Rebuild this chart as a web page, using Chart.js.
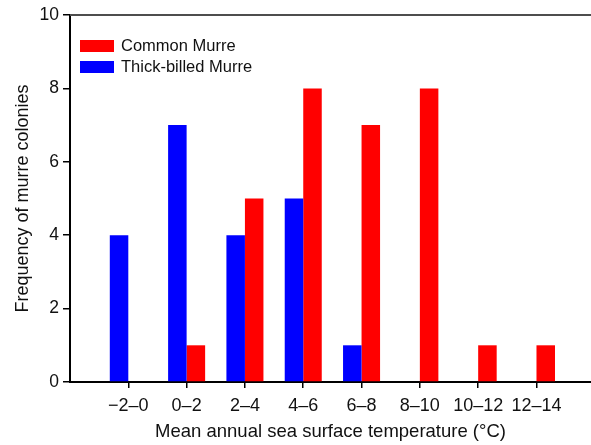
<!DOCTYPE html>
<html>
<head>
<meta charset="utf-8">
<script src="https://cdn.jsdelivr.net/npm/chart.js@4/dist/chart.umd.min.js"></script>
<style>
  html, body { margin: 0; padding: 0; background: #fff; }
  #wrap { width: 591px; height: 445px; position: relative; }
</style>
</head>
<body>
<div id="wrap"><canvas id="murreChart"></canvas></div>
<script>
// temperature bins (centre of each 2-degree bin) and their labels
var binCentres = [-1, 1, 3, 5, 7, 9, 11, 13];
var binLabels = ['\u22122\u20130', '0\u20132', '2\u20134', '4\u20136', '6\u20138', '8\u201310', '10\u201312', '12\u201314'];
var thickBilled = [4, 7, 4, 5, 1, 0, 0, 0];
var common = [0, 1, 5, 8, 7, 8, 1, 1];
var yTicks = [0, 2, 4, 6, 8, 10];

var FONT = 'Liberation Sans, Arial, Helvetica, sans-serif';

function pts(values) {
  return binCentres.map(function (x, i) { return { x: x, y: values[i] }; });
}

// legend drawn inside the plot, Common Murre listed first
var insideLegend = {
  id: 'insideLegend',
  afterDraw: function (chart) {
    var ctx = chart.ctx;
    var area = chart.chartArea;
    var order = [1, 0];
    ctx.save();
    ctx.font = '16.5px ' + FONT;
    ctx.textBaseline = 'middle';
    order.forEach(function (di, row) {
      var ds = chart.data.datasets[di];
      var y = area.top + 31 + row * 21;
      ctx.fillStyle = ds.backgroundColor;
      ctx.fillRect(area.left + 10, y - 6, 34, 12);
      ctx.fillStyle = '#111';
      ctx.fillText(ds.label, area.left + 51, y);
    });
    // top frame line
    ctx.strokeStyle = '#4d4d4d';
    ctx.lineWidth = 2;
    ctx.beginPath();
    ctx.moveTo(area.left, area.top);
    ctx.lineTo(area.right, area.top);
    ctx.stroke();
    ctx.restore();
  }
};

new Chart(document.getElementById('murreChart'), {
  type: 'bar',
  data: {
    datasets: [{
      label: 'Thick-billed Murre',
      data: pts(thickBilled),
      backgroundColor: '#0000ff',
      borderWidth: 0
    }, {
      label: 'Common Murre',
      data: pts(common),
      backgroundColor: '#ff0000',
      borderWidth: 0
    }]
  },
  options: {
    responsive: true,
    maintainAspectRatio: false,
    animation: false,
    categoryPercentage: 0.635,
    barPercentage: 1,
    layout: { padding: { top: 15, right: 0, left: 0, bottom: 0 } },
    plugins: {
      legend: { display: false },
      tooltip: { enabled: false }
    },
    scales: {
      x: {
        type: 'linear',
        offset: false,
        min: -3,
        max: 14.87,
        afterBuildTicks: function (s) {
          s.ticks = binCentres.map(function (v) { return { value: v }; });
        },
        afterFit: function (s) { s.height = 63; },
        grid: {
          display: true,
          offset: false,
          drawOnChartArea: false,
          drawTicks: true,
          tickLength: 6,
          color: '#000',
          lineWidth: 1.5
        },
        border: { color: '#000', width: 2 },
        ticks: {
          autoSkip: false,
          maxRotation: 0,
          padding: 7,
          color: '#111',
          font: { family: FONT, size: 18 },
          callback: function (v) {
            var i = binCentres.indexOf(v);
            return i < 0 ? '' : binLabels[i];
          }
        },
        title: {
          display: true,
          text: 'Mean annual sea surface temperature (\u00b0C)',
          color: '#111',
          font: { family: FONT, size: 18.5 },
          padding: { top: 0, bottom: 2 }
        }
      },
      y: {
        min: 0,
        max: 10,
        afterBuildTicks: function (s) {
          s.ticks = yTicks.map(function (v) { return { value: v }; });
        },
        afterFit: function (s) { s.width = 70; },
        grid: {
          display: true,
          drawOnChartArea: false,
          drawTicks: true,
          tickLength: 7,
          color: '#000',
          lineWidth: 1.5
        },
        border: { color: '#000', width: 2 },
        ticks: {
          padding: 4,
          color: '#111',
          font: { family: FONT, size: 17.5 }
        },
        title: {
          display: true,
          text: 'Frequency of murre colonies',
          color: '#111',
          font: { family: FONT, size: 18 },
          padding: { top: 12, bottom: 0 }
        }
      }
    }
  },
  plugins: [insideLegend]
});
</script>
</body>
</html>
